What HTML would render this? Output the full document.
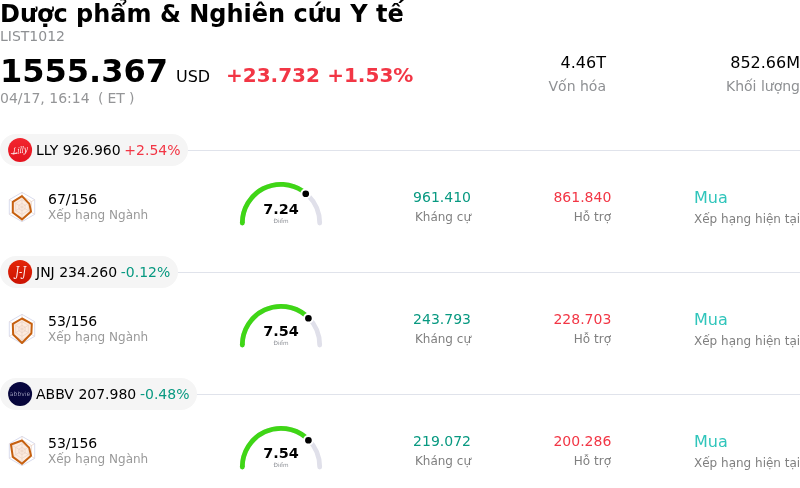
<!DOCTYPE html>
<html lang="vi"><head><meta charset="utf-8"><title>Dược phẩm &amp; Nghiên cứu Y tế</title>
<style>
html,body{margin:0;padding:0;background:#fff;}
body{width:800px;height:488px;position:relative;overflow:hidden;font-family:"DejaVu Sans","Liberation Sans",sans-serif;}
#w{position:absolute;left:0;top:0;width:800px;height:488px;will-change:transform;}
.t{position:absolute;line-height:1;white-space:nowrap;}
.g{position:absolute;overflow:visible;}
.ln{position:absolute;left:0;width:800px;height:1px;background:#e0e3eb;}
.pill{position:absolute;left:0;height:32px;border-radius:16px;background:#f5f5f5;}
</style></head>
<body><div id="w">
<span class="t" style="left:0px;top:1.60px;font-size:24px;color:#000;font-weight:bold;">Dược phẩm &amp; Nghiên cứu Y tế</span>
<span class="t" style="left:0px;top:29.16px;font-size:14px;color:#8e9093;">LIST1012</span>
<span class="t" style="left:0px;top:55.23px;font-size:32px;color:#000;font-weight:bold;">1555.367</span>
<span class="t" style="left:176px;top:69.46px;font-size:16px;color:#000;">USD</span>
<span class="t" style="left:226px;top:65.08px;font-size:20px;color:#f23645;font-weight:bold;word-spacing:0.3px;">+23.732 +1.53%</span>
<span class="t" style="left:0px;top:91.16px;font-size:14px;color:#949597;">04/17, 16:14<span style="word-spacing:-0.3px">&nbsp; ( ET )</span></span>
<span class="t" style="right:194px;top:55.46px;font-size:16px;color:#000;">4.46T</span>
<span class="t" style="right:194px;top:79.16px;font-size:14px;color:#8e9093;">Vốn hóa</span>
<span class="t" style="right:0px;top:55.46px;font-size:16px;color:#000;">852.66M</span>
<span class="t" style="right:0px;top:79.16px;font-size:14px;color:#8e9093;">Khối lượng</span>
<div class="ln" style="top:150px"></div>
<div class="pill" style="top:134px;width:188px"></div>
<svg class="g" style="left:4px;top:133.8px" width="32" height="32" viewBox="4 133.8 32 32"><defs><linearGradient id="lglly" x1="0" y1="0" x2="0" y2="1"><stop offset="0" stop-color="#f2262f"/><stop offset="1" stop-color="#e6131f"/></linearGradient></defs><circle cx="20.1" cy="149.8" r="12" fill="url(#lglly)"/><g transform="translate(20.1 149.8) rotate(-11) skewX(-14)"><text x="0.2" y="3.1" text-anchor="middle" font-family="DejaVu Serif,Liberation Serif,serif" font-style="italic" font-size="8.6" fill="#fff" textLength="15" lengthAdjust="spacingAndGlyphs">Lilly</text></g><path d="M10.9 153.4 L17.1 153.0" stroke="#fff" stroke-width="0.7" fill="none"/></svg>
<span class="t" style="left:36px;top:143.16px;font-size:14px;color:#000;">LLY 926.960 <span style="color:#f23645;margin-left:-0.8px">+2.54%</span></span>
<svg class="g" style="left:6px;top:189.8px" width="32" height="34" viewBox="-16 -17 32 34"><polygon points="0.00,-14.65 12.69,-7.33 12.69,7.32 0.00,14.65 -12.69,7.33 -12.69,-7.33" fill="#fff" stroke="#d9dcee" stroke-width="1"/><polygon points="0,-10.9 7.4,-3.15 9.0,4.6 0,12.4 -9.2,5.45 -9.2,-5.2" fill="#fcebdf" stroke="none"/><polygon points="0.00,-10.99 9.52,-5.49 9.52,5.49 0.00,10.99 -9.52,5.49 -9.52,-5.49" fill="none" stroke="#ebd3c5" stroke-width="0.7"/><polygon points="0.00,-7.33 6.34,-3.66 6.34,3.66 0.00,7.33 -6.34,3.66 -6.34,-3.66" fill="none" stroke="#ebd3c5" stroke-width="0.7"/><polygon points="0.00,-3.66 3.17,-1.83 3.17,1.83 0.00,3.66 -3.17,1.83 -3.17,-1.83" fill="none" stroke="#ebd3c5" stroke-width="0.7"/><line x1="0.00" y1="-14.65" x2="-0.00" y2="14.65" stroke="#ebd3c5" stroke-width="0.7"/><line x1="12.69" y1="-7.33" x2="-12.69" y2="7.33" stroke="#ebd3c5" stroke-width="0.7"/><line x1="12.69" y1="7.32" x2="-12.69" y2="-7.32" stroke="#ebd3c5" stroke-width="0.7"/><polygon points="0,-10.9 7.4,-3.15 9.0,4.6 0,12.4 -9.2,5.45 -9.2,-5.2" fill="none" stroke="#c6600f" stroke-width="2" stroke-linejoin="round"/></svg>
<span class="t" style="left:48px;top:192.16px;font-size:14px;color:#000;">67/156</span>
<span class="t" style="left:48px;top:208.85px;font-size:12px;color:#999999;">Xếp hạng Ngành</span>
<svg class="g" style="left:236px;top:173.15px" width="90" height="60" viewBox="236 173.15 90 60"><path d="M242.3 223.15 A38.7 38.7 0 0 1 319.7 223.15" fill="none" stroke="#e0e0ea" stroke-width="4.8" stroke-linecap="round"/><path d="M242.3 223.15 A38.7 38.7 0 0 1 302.97 191.29" fill="none" stroke="#3fd616" stroke-width="4.8" stroke-linecap="butt"/><circle cx="242.3" cy="223.15" r="2.4" fill="#3fd616"/><circle cx="305.74" cy="193.89" r="4.4" fill="#000" stroke="#fff" stroke-width="2.1"/></svg>
<span class="t" style="left:0px;top:202.02px;font-size:14.4px;color:#000;font-weight:bold;left:241px;width:80px;text-align:center;">7.24</span>
<span class="t" style="left:0px;top:219.08px;font-size:5.7px;color:#8b8e94;left:241px;width:80px;text-align:center;">Điểm</span>
<span class="t" style="right:329px;top:190.16px;font-size:14px;color:#089981;">961.410</span>
<span class="t" style="right:329px;top:210.75px;font-size:12px;color:#808080;">Kháng cự</span>
<span class="t" style="right:188.70000000000005px;top:190.16px;font-size:14px;color:#f23645;">861.840</span>
<span class="t" style="right:189px;top:210.75px;font-size:12px;color:#808080;">Hỗ trợ</span>
<span class="t" style="left:694px;top:190.26px;font-size:16px;color:#30c5bb;">Mua</span>
<span class="t" style="left:694px;top:212.85px;font-size:12px;color:#808080;">Xếp hạng hiện tại</span>
<div class="ln" style="top:272px"></div>
<div class="pill" style="top:256px;width:178px"></div>
<svg class="g" style="left:4px;top:255.8px" width="32" height="32" viewBox="4 255.8 32 32"><defs><linearGradient id="lgjnj" x1="0" y1="0" x2="0" y2="1"><stop offset="0" stop-color="#e42708"/><stop offset="1" stop-color="#cb1202"/></linearGradient></defs><circle cx="20.1" cy="271.8" r="12" fill="url(#lgjnj)"/><text x="20.7" y="275.7" text-anchor="middle" font-family="DejaVu Serif,Liberation Serif,serif" font-style="italic" font-size="12" fill="#fff" fill-opacity="0.95" textLength="11" lengthAdjust="spacingAndGlyphs">J-J</text></svg>
<span class="t" style="left:36px;top:265.16px;font-size:14px;color:#000;">JNJ 234.260 <span style="color:#089981;margin-left:-0.8px">-0.12%</span></span>
<svg class="g" style="left:6px;top:311.8px" width="32" height="34" viewBox="-16 -17 32 34"><polygon points="0.00,-14.65 12.69,-7.33 12.69,7.32 0.00,14.65 -12.69,7.33 -12.69,-7.33" fill="#fff" stroke="#d9dcee" stroke-width="1"/><polygon points="0,-10.5 9.8,-5.2 9.4,4.2 0,14.05 -8.85,5.45 -9.2,-5.2" fill="#fcebdf" stroke="none"/><polygon points="0.00,-10.99 9.52,-5.49 9.52,5.49 0.00,10.99 -9.52,5.49 -9.52,-5.49" fill="none" stroke="#ebd3c5" stroke-width="0.7"/><polygon points="0.00,-7.33 6.34,-3.66 6.34,3.66 0.00,7.33 -6.34,3.66 -6.34,-3.66" fill="none" stroke="#ebd3c5" stroke-width="0.7"/><polygon points="0.00,-3.66 3.17,-1.83 3.17,1.83 0.00,3.66 -3.17,1.83 -3.17,-1.83" fill="none" stroke="#ebd3c5" stroke-width="0.7"/><line x1="0.00" y1="-14.65" x2="-0.00" y2="14.65" stroke="#ebd3c5" stroke-width="0.7"/><line x1="12.69" y1="-7.33" x2="-12.69" y2="7.33" stroke="#ebd3c5" stroke-width="0.7"/><line x1="12.69" y1="7.32" x2="-12.69" y2="-7.32" stroke="#ebd3c5" stroke-width="0.7"/><polygon points="0,-10.5 9.8,-5.2 9.4,4.2 0,14.05 -8.85,5.45 -9.2,-5.2" fill="none" stroke="#c6600f" stroke-width="2" stroke-linejoin="round"/></svg>
<span class="t" style="left:48px;top:314.16px;font-size:14px;color:#000;">53/156</span>
<span class="t" style="left:48px;top:330.85px;font-size:12px;color:#999999;">Xếp hạng Ngành</span>
<svg class="g" style="left:236px;top:295.15px" width="90" height="60" viewBox="236 295.15 90 60"><path d="M242.3 345.15 A38.7 38.7 0 0 1 319.7 345.15" fill="none" stroke="#e0e0ea" stroke-width="4.8" stroke-linecap="round"/><path d="M242.3 345.15 A38.7 38.7 0 0 1 305.87 315.50" fill="none" stroke="#3fd616" stroke-width="4.8" stroke-linecap="butt"/><circle cx="242.3" cy="345.15" r="2.4" fill="#3fd616"/><circle cx="308.41" cy="318.38" r="4.4" fill="#000" stroke="#fff" stroke-width="2.1"/></svg>
<span class="t" style="left:0px;top:324.02px;font-size:14.4px;color:#000;font-weight:bold;left:241px;width:80px;text-align:center;">7.54</span>
<span class="t" style="left:0px;top:341.08px;font-size:5.7px;color:#8b8e94;left:241px;width:80px;text-align:center;">Điểm</span>
<span class="t" style="right:329px;top:312.16px;font-size:14px;color:#089981;">243.793</span>
<span class="t" style="right:329px;top:332.75px;font-size:12px;color:#808080;">Kháng cự</span>
<span class="t" style="right:188.70000000000005px;top:312.16px;font-size:14px;color:#f23645;">228.703</span>
<span class="t" style="right:189px;top:332.75px;font-size:12px;color:#808080;">Hỗ trợ</span>
<span class="t" style="left:694px;top:312.26px;font-size:16px;color:#30c5bb;">Mua</span>
<span class="t" style="left:694px;top:334.85px;font-size:12px;color:#808080;">Xếp hạng hiện tại</span>
<div class="ln" style="top:394px"></div>
<div class="pill" style="top:378px;width:197px"></div>
<svg class="g" style="left:4px;top:377.8px" width="32" height="32" viewBox="4 377.8 32 32"><defs><linearGradient id="lgabbv" x1="0" y1="0" x2="0" y2="1"><stop offset="0" stop-color="#08073f"/><stop offset="1" stop-color="#06053a"/></linearGradient></defs><circle cx="20.1" cy="393.8" r="12" fill="url(#lgabbv)"/><text x="20.1" y="396.1" text-anchor="middle" font-family="DejaVu Sans,sans-serif" font-weight="200" font-size="6.1" fill="#e4e4f6" textLength="20.6" lengthAdjust="spacingAndGlyphs">abbvie</text></svg>
<span class="t" style="left:36px;top:387.16px;font-size:14px;color:#000;">ABBV 207.980 <span style="color:#089981;margin-left:-0.8px">-0.48%</span></span>
<svg class="g" style="left:6px;top:433.8px" width="32" height="34" viewBox="-16 -17 32 34"><polygon points="0.00,-14.65 12.69,-7.33 12.69,7.32 0.00,14.65 -12.69,7.33 -12.69,-7.33" fill="#fff" stroke="#d9dcee" stroke-width="1"/><polygon points="0,-10.5 7.2,-3.15 9.0,4.8 0,12.8 -9.2,5.85 -11.05,-6.45" fill="#fcebdf" stroke="none"/><polygon points="0.00,-10.99 9.52,-5.49 9.52,5.49 0.00,10.99 -9.52,5.49 -9.52,-5.49" fill="none" stroke="#ebd3c5" stroke-width="0.7"/><polygon points="0.00,-7.33 6.34,-3.66 6.34,3.66 0.00,7.33 -6.34,3.66 -6.34,-3.66" fill="none" stroke="#ebd3c5" stroke-width="0.7"/><polygon points="0.00,-3.66 3.17,-1.83 3.17,1.83 0.00,3.66 -3.17,1.83 -3.17,-1.83" fill="none" stroke="#ebd3c5" stroke-width="0.7"/><line x1="0.00" y1="-14.65" x2="-0.00" y2="14.65" stroke="#ebd3c5" stroke-width="0.7"/><line x1="12.69" y1="-7.33" x2="-12.69" y2="7.33" stroke="#ebd3c5" stroke-width="0.7"/><line x1="12.69" y1="7.32" x2="-12.69" y2="-7.32" stroke="#ebd3c5" stroke-width="0.7"/><polygon points="0,-10.5 7.2,-3.15 9.0,4.8 0,12.8 -9.2,5.85 -11.05,-6.45" fill="none" stroke="#c6600f" stroke-width="2" stroke-linejoin="round"/></svg>
<span class="t" style="left:48px;top:436.16px;font-size:14px;color:#000;">53/156</span>
<span class="t" style="left:48px;top:452.85px;font-size:12px;color:#999999;">Xếp hạng Ngành</span>
<svg class="g" style="left:236px;top:417.15px" width="90" height="60" viewBox="236 417.15 90 60"><path d="M242.3 467.15 A38.7 38.7 0 0 1 319.7 467.15" fill="none" stroke="#e0e0ea" stroke-width="4.8" stroke-linecap="round"/><path d="M242.3 467.15 A38.7 38.7 0 0 1 305.87 437.50" fill="none" stroke="#3fd616" stroke-width="4.8" stroke-linecap="butt"/><circle cx="242.3" cy="467.15" r="2.4" fill="#3fd616"/><circle cx="308.41" cy="440.38" r="4.4" fill="#000" stroke="#fff" stroke-width="2.1"/></svg>
<span class="t" style="left:0px;top:446.02px;font-size:14.4px;color:#000;font-weight:bold;left:241px;width:80px;text-align:center;">7.54</span>
<span class="t" style="left:0px;top:463.08px;font-size:5.7px;color:#8b8e94;left:241px;width:80px;text-align:center;">Điểm</span>
<span class="t" style="right:329px;top:434.16px;font-size:14px;color:#089981;">219.072</span>
<span class="t" style="right:329px;top:454.75px;font-size:12px;color:#808080;">Kháng cự</span>
<span class="t" style="right:188.70000000000005px;top:434.16px;font-size:14px;color:#f23645;">200.286</span>
<span class="t" style="right:189px;top:454.75px;font-size:12px;color:#808080;">Hỗ trợ</span>
<span class="t" style="left:694px;top:434.26px;font-size:16px;color:#30c5bb;">Mua</span>
<span class="t" style="left:694px;top:456.85px;font-size:12px;color:#808080;">Xếp hạng hiện tại</span>
</div></body></html>
